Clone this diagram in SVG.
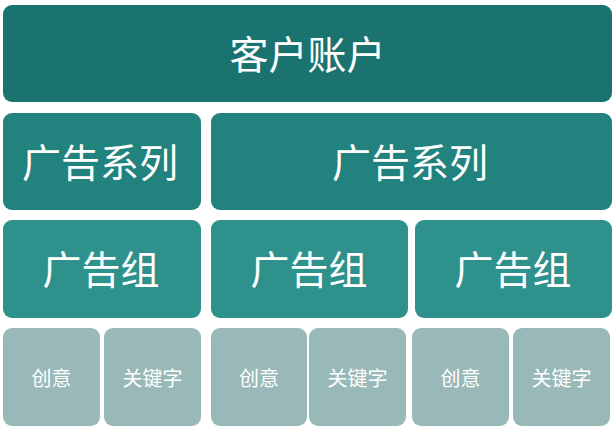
<svg xmlns="http://www.w3.org/2000/svg" width="615" height="428" viewBox="0 0 615 428">
<style>
text{font-family:"Noto Sans CJK SC","Noto Sans",sans-serif;fill:#fff;text-anchor:middle;dominant-baseline:central;font-weight:400}
.big{font-size:39px}
.sm{font-size:20px}
.l1{fill:#1b7370}.l2{fill:#21827e}.l3{fill:#2e918c}.l4{fill:#99b9b8}
</style>
<rect width="615" height="428" fill="#fff"/>
<g id="account"><rect class="l1" x="3" y="5" width="609" height="97" rx="9"/><text class="big" x="307.5" y="52">客户账户</text></g>
<g id="campaign1"><rect class="l2" x="3" y="113" width="198" height="97" rx="9"/><text class="big" x="100" y="160">广告系列</text></g>
<g id="campaign2"><rect class="l2" x="211" y="113" width="401" height="97" rx="9"/><text class="big" x="410" y="160">广告系列</text></g>
<g id="group1"><rect class="l3" x="3" y="220" width="198" height="98" rx="9"/><text class="big" x="101" y="267">广告组</text></g>
<g id="group2"><rect class="l3" x="211" y="220" width="197" height="98" rx="9"/><text class="big" x="309" y="267">广告组</text></g>
<g id="group3"><rect class="l3" x="415" y="220" width="197" height="98" rx="9"/><text class="big" x="513" y="267">广告组</text></g>
<g id="creative1"><rect class="l4" x="3" y="328" width="97" height="98" rx="9"/><text class="sm" x="51.5" y="377">创意</text></g>
<g id="keyword1"><rect class="l4" x="104" y="328" width="97" height="98" rx="9"/><text class="sm" x="152.5" y="377">关键字</text></g>
<g id="creative2"><rect class="l4" x="211" y="328" width="96" height="98" rx="9"/><text class="sm" x="259" y="377">创意</text></g>
<g id="keyword2"><rect class="l4" x="309" y="328" width="97" height="98" rx="9"/><text class="sm" x="357.5" y="377">关键字</text></g>
<g id="creative3"><rect class="l4" x="412" y="328" width="97" height="98" rx="9"/><text class="sm" x="460.5" y="377">创意</text></g>
<g id="keyword3"><rect class="l4" x="513" y="328" width="97" height="98" rx="9"/><text class="sm" x="561.5" y="377">关键字</text></g>
<g id="connectors"></g>
</svg>
